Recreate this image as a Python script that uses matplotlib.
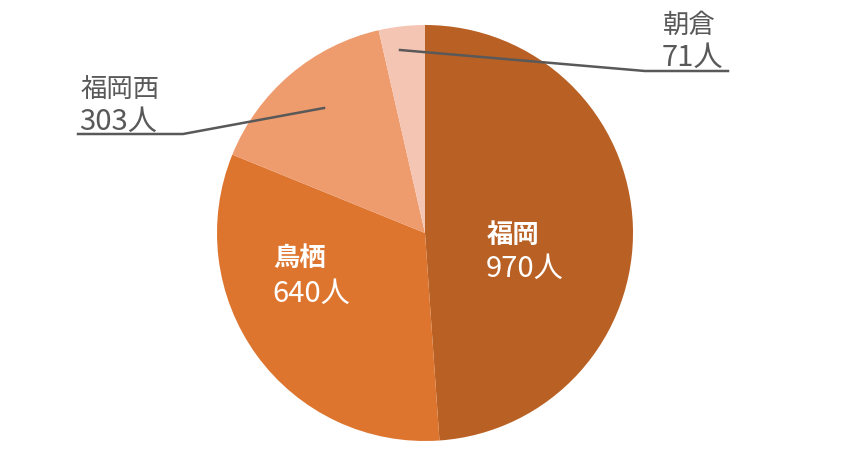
import matplotlib.pyplot as plt

plt.rcParams['font.family'] = ['Noto Sans CJK JP', 'DejaVu Sans']

# data
names = ['福岡', '鳥栖', '福岡西', '朝倉']
counts = [970, 640, 303, 71]
colors = ['#B96024', '#DD752F', '#EE9B6E', '#F5C5B4']

W, H = 848, 468
fig = plt.figure(figsize=(W / 100, H / 100), dpi=100)
ax = fig.add_axes([0, 0, 1, 1])

cx, cy, r = 425, H - 233, 208
ax.pie(counts, colors=colors, startangle=90, counterclock=False,
       center=(cx, cy), radius=r, frame=True)
ax.set_xlim(0, W)
ax.set_ylim(0, H)
ax.set_aspect('equal')
ax.axis('off')

def label(i, x, y_name, y_num, color, bold):
    # two lines: name, then count; y values are baselines in pixels from top
    ax.text(x, H - y_name, names[i], color=color, fontsize=19,
            fontweight='bold' if bold else 'normal', ha='left', va='baseline')
    ax.text(x - 1, H - y_num, f'{counts[i]}人', color=color, fontsize=21,
            ha='left', va='baseline')

grey = '#595959'
label(0, 487, 243, 277, 'white', True)
label(1, 273, 266, 302, 'white', True)
label(2, 80, 98, 130, grey, False)
label(3, 663, 33, 66, grey, False)

# leader lines
ax.plot([78, 183, 324], [H - 134, H - 134, H - 108], color=grey, lw=1.8)
ax.plot([728, 645, 400], [H - 71, H - 71, H - 50], color=grey, lw=1.8)

fig.savefig('out.png', dpi=100)
